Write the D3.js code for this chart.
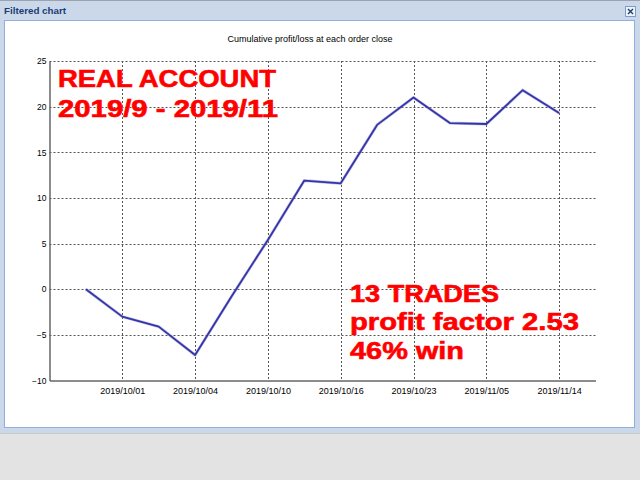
<!DOCTYPE html>
<html>
<head>
<meta charset="utf-8">
<script src="https://cdn.jsdelivr.net/npm/d3@7"></script>
<style>
  body { margin: 0; background: #e3e3e3; }
  svg { display: block; }
  .tick text { font-family: "Liberation Sans", Arial, sans-serif; fill: #000; }
</style>
</head>
<body>
<svg id="chart" width="640" height="480"></svg>
<script>
// cumulative profit after each closed order (order 0 = start)
const orders = [0, 1, 2, 3, 4, 5, 6, 7, 8, 9, 10, 11, 12, 13];
const profit = [0, -3.0, -4.1, -7.2, -0.8, 5.4, 11.9, 11.6, 18.0, 21.0, 18.2, 18.1, 21.8, 19.3];

const xTickOrders = [1, 3, 5, 7, 9, 11, 13];
const xTickLabels = ["2019/10/01", "2019/10/04", "2019/10/10", "2019/10/16", "2019/10/23", "2019/11/05", "2019/11/14"];
const yTicks = [-10, -5, 0, 5, 10, 15, 20, 25];

const windowTitle = "Filtered chart";
const chartTitle = "Cumulative profit/loss at each order close";
const noteTop = ["REAL ACCOUNT", "2019/9 - 2019/11"];
const noteBottom = ["13 TRADES", "profit factor 2.53", "46% win"];

const svg = d3.select("#chart");

// window chrome
svg.append("rect").attr("x", 0).attr("y", 0).attr("width", 640).attr("height", 433)
    .attr("fill", "#cbd8e9");
svg.append("line").attr("x1", 0).attr("x2", 640).attr("y1", 0.5).attr("y2", 0.5)
    .attr("stroke", "#9aa4b0");
svg.append("line").attr("x1", 0).attr("x2", 640).attr("y1", 433.5).attr("y2", 433.5)
    .attr("stroke", "#c9c9c9");
svg.append("text")
    .attr("x", 4).attr("y", 13.5)
    .attr("font-family", "Liberation Sans, Arial, sans-serif")
    .attr("font-weight", "bold")
    .attr("font-size", 9.8)
    .attr("fill", "#1b3c74")
    .text(windowTitle);
// close button
const close = svg.append("g").attr("transform", "translate(625,6)");
close.append("rect").attr("x", 0.5).attr("y", 0.5).attr("width", 10).attr("height", 10)
    .attr("fill", "#eef3fa").attr("stroke", "#7f9cc8");
close.append("path").attr("d", "M3,3 L8,8 M8,3 L3,8")
    .attr("stroke", "#1b3c74").attr("stroke-width", 1.4);

// white panel
svg.append("rect").attr("x", 4.5).attr("y", 20.5).attr("width", 630).attr("height", 407)
    .attr("fill", "#fff").attr("stroke", "#8fb0dc");

const x = d3.scaleLinear().domain([-1, 14]).range([49.5, 595.5]);
const y = d3.scaleLinear().domain([-10, 25]).range([380.5, 61]);

svg.append("text")
    .attr("x", 310).attr("y", 41.5)
    .attr("text-anchor", "middle")
    .attr("font-family", "Liberation Sans, Arial, sans-serif")
    .attr("font-size", 9)
    .text(chartTitle);

// grid
const grid = svg.append("g")
    .attr("stroke", "#555")
    .attr("stroke-width", 1)
    .attr("stroke-dasharray", "2,2");
grid.selectAll("line.h")
    .data(yTicks.filter(d => d > -10))
    .join("line")
    .attr("class", "h")
    .attr("x1", x(-1)).attr("x2", x(14))
    .attr("y1", d => Math.round(y(d)) + 0.5).attr("y2", d => Math.round(y(d)) + 0.5);
grid.selectAll("line.v")
    .data(xTickOrders)
    .join("line")
    .attr("class", "v")
    .attr("x1", d => Math.round(x(d)) + 0.5).attr("x2", d => Math.round(x(d)) + 0.5)
    .attr("y1", y(25)).attr("y2", y(-10));

// axes
const yAxis = svg.append("g")
    .attr("transform", `translate(${x(-1)},0)`)
    .call(d3.axisLeft(y).tickValues(yTicks).tickSize(0).tickPadding(3));
yAxis.selectAll("text").attr("font-size", 8.5);
yAxis.select(".domain").attr("stroke", "#666").attr("stroke-width", 1.5);

const xAxis = svg.append("g")
    .attr("transform", `translate(0,${y(-10)})`)
    .call(d3.axisBottom(x).tickValues(xTickOrders)
        .tickFormat((d, i) => xTickLabels[i])
        .tickSize(0).tickPadding(7));
xAxis.selectAll("text").attr("font-size", 9);
xAxis.select(".domain").attr("stroke", "#666").attr("stroke-width", 1.5);

// red annotations
const red = svg.append("g")
    .attr("fill", "#ff0000")
    .attr("stroke", "#ff0000")
    .attr("stroke-width", 0.6)
    .attr("font-family", "Liberation Sans, Arial, sans-serif")
    .attr("font-weight", "bold")
    .attr("font-size", 24);
const topWidths = [218, 220];
const topBase = [87, 117];
red.selectAll("text.top")
    .data(noteTop)
    .join("text")
    .attr("class", "top")
    .attr("x", 58)
    .attr("y", (d, i) => topBase[i])
    .attr("textLength", (d, i) => topWidths[i])
    .attr("lengthAdjust", "spacingAndGlyphs")
    .text(d => d);
const botWidths = [149, 229, 114];
const botBase = [302, 330.3, 358.5];
red.selectAll("text.bot")
    .data(noteBottom)
    .join("text")
    .attr("class", "bot")
    .attr("x", 350)
    .attr("y", (d, i) => botBase[i])
    .attr("textLength", (d, i) => botWidths[i])
    .attr("lengthAdjust", "spacingAndGlyphs")
    .text(d => d);

// profit line
const line = d3.line()
    .x((d, i) => x(orders[i]))
    .y(d => y(d));
svg.append("path")
    .datum(profit)
    .attr("fill", "none")
    .attr("stroke", "#8888d8")
    .attr("stroke-width", 3)
    .attr("stroke-opacity", 0.5)
    .attr("d", line);
svg.append("path")
    .datum(profit)
    .attr("fill", "none")
    .attr("stroke", "#3535a6")
    .attr("stroke-width", 1.8)
    .attr("stroke-linejoin", "round")
    .attr("d", line);
</script>
</body>
</html>
